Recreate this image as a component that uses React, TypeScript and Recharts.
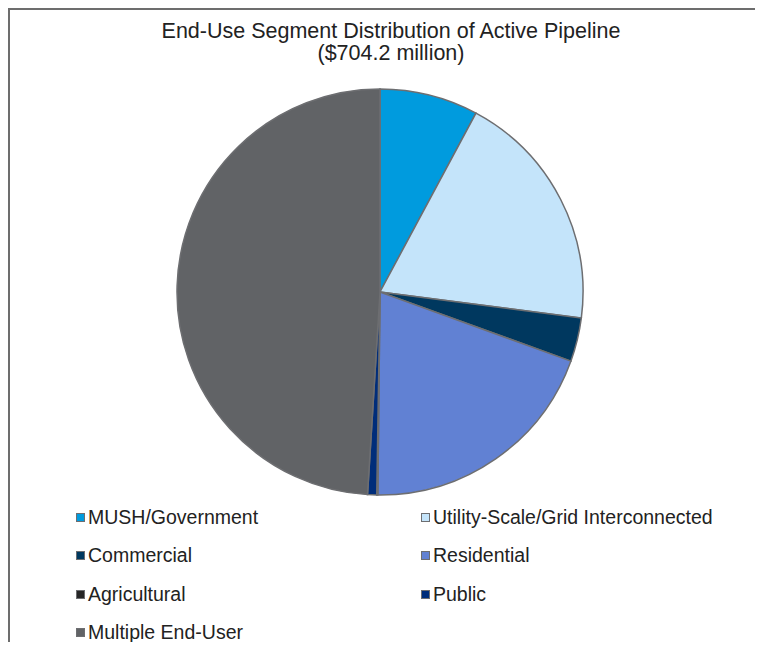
import { PieChart, Pie, Cell } from 'recharts'

const segments = [
  'MUSH/Government',
  'Utility-Scale/Grid Interconnected',
  'Commercial',
  'Residential',
  'Agricultural',
  'Public',
  'Multiple End-User',
]
// $ millions, total 704.2
const values = [55.2, 135.3, 24.5, 138.3, 0.6, 5.1, 345.2]
const colors = ['#009bde', '#c4e4fa', '#00385f', '#6181d3', '#262626', '#002d7a', '#616366']

const data = segments.map((name, i) => ({ name, value: values[i] }))

const font = '"Liberation Sans", Arial, sans-serif'

// page offset of the body margin
const OFF = 8

function LegendGrid() {
  return (
    <div
      style={{
        position: 'absolute',
        left: 76 - OFF,
        top: 498 - OFF,
        display: 'grid',
        gridTemplateColumns: '345px 330px',
        fontFamily: font,
        fontSize: 19.5,
        color: '#222',
      }}
    >
      {segments.map((s, i) => (
        <div key={s} style={{ display: 'flex', alignItems: 'center', height: 38.5, whiteSpace: 'nowrap' }}>
          <div
            style={{
              width: 7,
              height: 7,
              flex: 'none',
              backgroundColor: colors[i],
              border: '1px solid #6d6e71',
              marginRight: 3,
            }}
          />
          <span>{s}</span>
        </div>
      ))}
    </div>
  )
}

export default function App() {
  return (
    <div style={{ position: 'relative', width: 763 - 2 * OFF, height: 650 - 2 * OFF }}>
      <div
        style={{
          position: 'absolute',
          left: 0,
          top: 0,
          width: 763 - OFF - 2,
          height: 650 - OFF - 2,
          borderTop: '2px solid #6d6d6d',
          borderLeft: '2px solid #6d6d6d',
        }}
      />
      <div style={{ position: 'absolute', left: -OFF, top: -OFF }}>
        <PieChart width={763} height={650} margin={{ top: 0, right: 0, bottom: 0, left: 0 }}>
          <Pie
            data={data}
            dataKey="value"
            nameKey="name"
            cx={380}
            cy={292}
            outerRadius={203}
            startAngle={90}
            endAngle={-270}
            stroke="#6d6e71"
            strokeWidth={1.5}
            isAnimationActive={false}
          >
            {data.map((d, i) => (
              <Cell key={d.name} fill={colors[i]} />
            ))}
          </Pie>
        </PieChart>
      </div>
      <div
        style={{
          position: 'absolute',
          left: 21 - OFF,
          width: 740,
          top: 20 - OFF,
          textAlign: 'center',
          fontFamily: font,
          fontSize: 21.5,
          lineHeight: '22px',
          color: '#222',
        }}
      >
        End-Use Segment Distribution of Active Pipeline
        <br />($704.2 million)
      </div>
      <LegendGrid />
    </div>
  )
}
